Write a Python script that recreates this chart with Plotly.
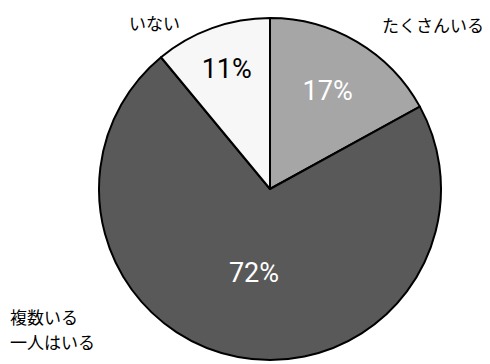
import plotly.graph_objects as go

# Survey shares, drawn clockwise from 12 o'clock
categories = ["たくさんいる", "複数いる<br>一人はいる", "いない"]
shares = [17, 72, 11]
slice_colors = ["#a6a6a6", "#595959", "#f7f7f7"]
pct_colors = ["white", "white", "black"]

W, H = 490, 364

fig = go.Figure(
    go.Pie(
        labels=categories,
        values=shares,
        sort=False,
        direction="clockwise",
        rotation=0,
        marker=dict(colors=slice_colors, line=dict(color="black", width=2)),
        textinfo="percent",
        texttemplate="%{value}%",
        textposition="inside",
        insidetextorientation="horizontal",
        insidetextfont=dict(family="Roboto", size=27, color=pct_colors),
        domain=dict(x=[99 / W, 441 / W], y=[1 - 360 / H, 1 - 18 / H]),
        showlegend=False,
        hoverinfo="label+percent",
    )
)

# Category names set outside the circle, one annotation per text line
label_font = dict(family="Noto Sans CJK JP", size=17, color="black")
label_pos = {
    "たくさんいる": (433, 25, "center"),
    "いない": (154, 22, "center"),
    "複数いる<br>一人はいる": (8, 316, "left"),
}
line_step = 25
for name in categories:
    x, y, align = label_pos[name]
    for i, line in enumerate(name.split("<br>")):
        fig.add_annotation(
            x=x / W, y=1 - (y + i * line_step) / H, xref="paper", yref="paper",
            text=line, showarrow=False, font=label_font,
            xanchor=align, yanchor="middle",
        )

fig.update_layout(
    width=W, height=H,
    margin=dict(l=0, r=0, t=0, b=0),
    paper_bgcolor="white",
    plot_bgcolor="white",
    uniformtext=dict(minsize=27, mode="show"),
)

fig.write_html("out.html")
